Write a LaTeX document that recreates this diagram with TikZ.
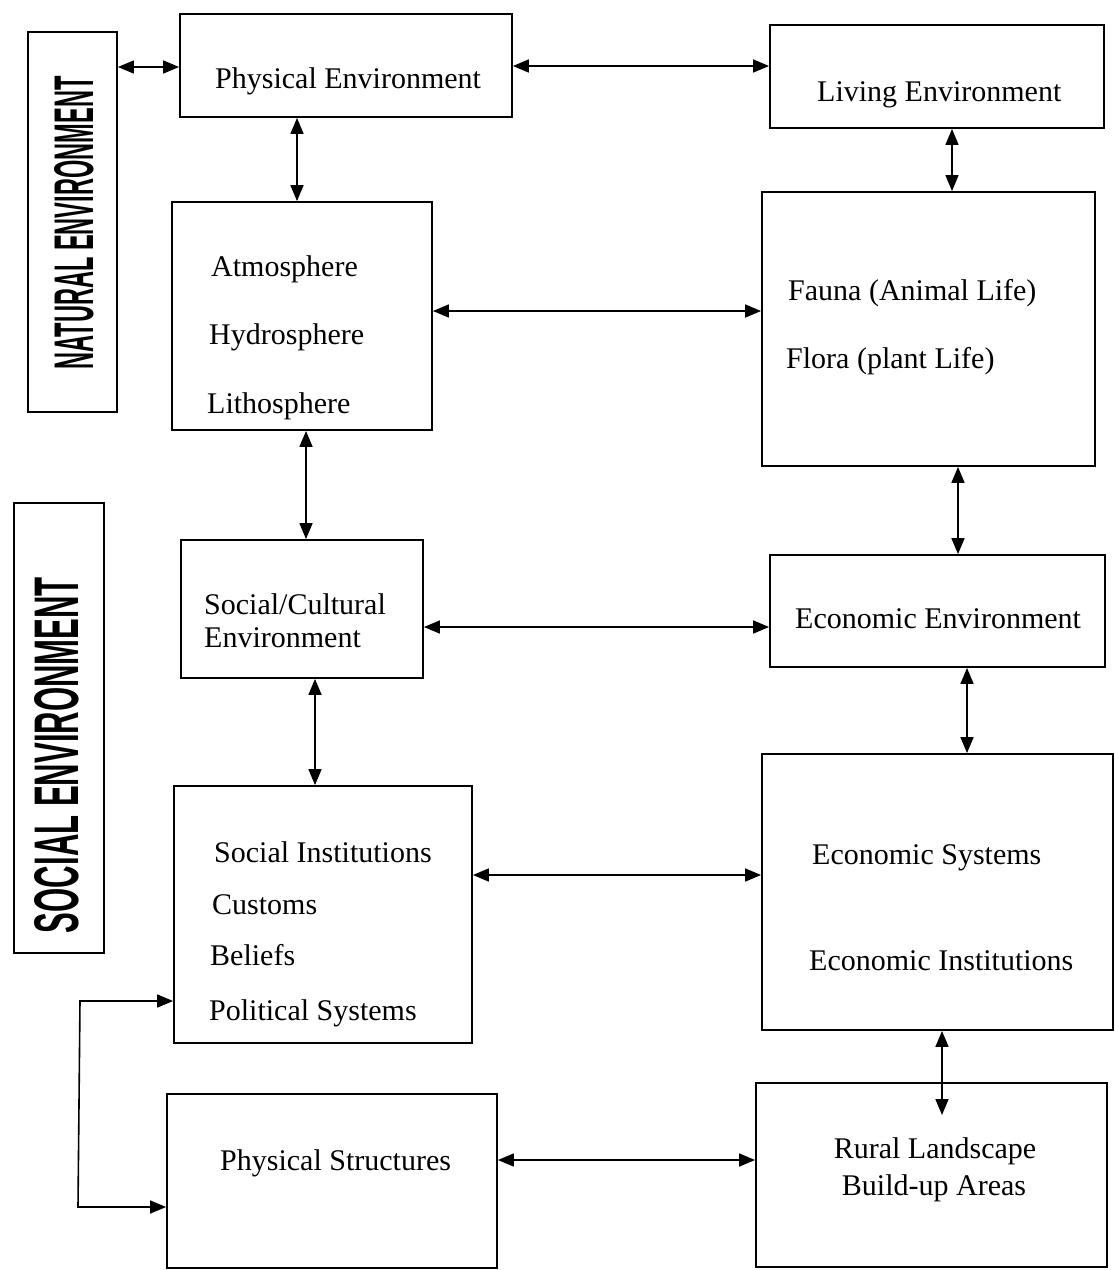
\documentclass[tikz,border=0pt]{standalone}
\usepackage{fontspec}
\setmainfont{Liberation Serif}
\newfontfamily\labelfont{Liberation Sans}
\usetikzlibrary{arrows.meta,fit}
\tikzset{
  box/.style={draw, line width=1.8pt, inner sep=0pt},
  txt/.style={inner sep=0pt, anchor=west, text height=21pt, text depth=7pt, font=\fontsize{30}{36}\selectfont},
  ctxt/.style={txt, anchor=center},
  arr/.style={{Triangle[length=16pt,width=13pt]}-{Triangle[length=16pt,width=13pt]}, line width=1.6pt},
}
\begin{document}
\begin{tikzpicture}[x=1pt,y=-1pt]
\useasboundingbox (0,0) rectangle (1115,1270);
% side labels
\node[box, fit={(28,32) (117,412)}] (natbox) {};
\node[rotate=90, inner sep=0] (natlbl) at (74,223) {\resizebox{293pt}{39pt}{\labelfont\bfseries NATURAL ENVIRONMENT}};
\node[box, fit={(14,503) (104,953)}] (socbox) {};
\node[rotate=90, inner sep=0] (soclbl) at (57,755) {\resizebox{356pt}{44pt}{\labelfont\bfseries SOCIAL ENVIRONMENT}};
% boxes
\node[box, fit={(180,14) (512,117)}] (pe) {};
\node[box, fit={(770,25) (1104,128)}] (le) {};
\node[box, fit={(172,202) (432,430)}] (atm) {};
\node[box, fit={(762,192) (1095,466)}] (fau) {};
\node[box, fit={(181,540) (423,678)}] (sc) {};
\node[box, fit={(770,555) (1105,667)}] (ee) {};
\node[box, fit={(174,786) (472,1043)}] (si) {};
\node[box, fit={(762,754) (1113,1030)}] (es) {};
\node[box, fit={(167,1094) (497,1268)}] (ps) {};
\node[box, fit={(756,1083) (1107,1267)}] (rl) {};
% texts
\node[txt] (tpe) at (215,81) {Physical Environment};
\node[txt] (tle) at (817,94) {Living Environment};
\node[txt] (tatm) at (211,269) {Atmosphere};
\node[txt] (thyd) at (209,337) {Hydrosphere};
\node[txt] (tlit) at (207,406) {Lithosphere};
\node[txt] (tfau) at (788,293) {Fauna (Animal Life)};
\node[txt] (tflo) at (786,361) {Flora (plant Life)};
\node[txt] (tsc1) at (204,607) {Social/Cultural};
\node[txt] (tsc2) at (204,640) {Environment};
\node[txt] (tee) at (795,621) {Economic Environment};
\node[txt] (tsi1) at (214,855) {Social Institutions};
\node[txt] (tsi2) at (212,907) {Customs};
\node[txt] (tsi3) at (210,958) {Beliefs};
\node[txt] (tsi4) at (209,1013) {Political Systems};
\node[txt] (tes1) at (812,857) {Economic Systems};
\node[txt] (tes2) at (809,963) {Economic Institutions};
\node[txt] (tps) at (220,1163) {Physical Structures};
\node[ctxt] (trl1) at (935,1151) {Rural Landscape};
\node[ctxt] (trl2) at (934,1188) {Build-up Areas};
% level coordinates
\coordinate (h1) at (0,67);
\coordinate (h2) at (0,66);
\coordinate (h3) at (0,311);
\coordinate (h4) at (0,627);
\coordinate (h5) at (0,875);
\coordinate (h6) at (0,1160);
\coordinate (v1) at (297,0);
\coordinate (v2) at (952,0);
\coordinate (v3) at (306,0);
\coordinate (v4) at (958,0);
\coordinate (v5) at (315,0);
\coordinate (v6) at (967,0);
\coordinate (v7) at (942,0);
\coordinate (rltip) at (942,1115);
\coordinate (bk1) at (80,1001);
\coordinate (bk2) at (78,1207);
% connectors
\draw[arr] (natbox.east |- h1) -- (pe.west |- h1);
\draw[arr] (pe.east |- h2) -- (le.west |- h2);
\draw[arr] (atm.east |- h3) -- (fau.west |- h3);
\draw[arr] (sc.east |- h4) -- (ee.west |- h4);
\draw[arr] (si.east |- h5) -- (es.west |- h5);
\draw[arr] (ps.east |- h6) -- (rl.west |- h6);
\draw[arr] (pe.south -| v1) -- (atm.north -| v1);
\draw[arr] (le.south -| v2) -- (fau.north -| v2);
\draw[arr] (atm.south -| v3) -- (sc.north -| v3);
\draw[arr] (fau.south -| v4) -- (ee.north -| v4);
\draw[arr] (sc.south -| v5) -- (si.north -| v5);
\draw[arr] (ee.south -| v6) -- (es.north -| v6);
\draw[arr] (es.south -| v7) -- (rltip);
\draw[arr] (si.west |- bk1) -- (bk1) -- (bk2) -- (ps.west |- bk2);
\end{tikzpicture}
\end{document}
